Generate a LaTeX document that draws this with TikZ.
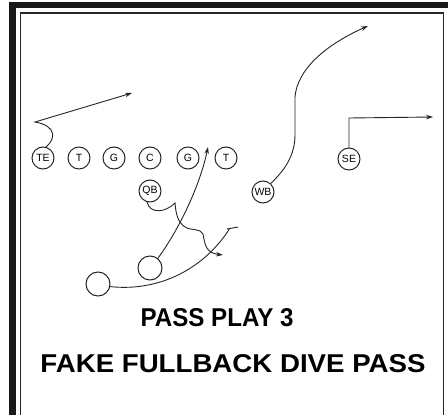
\documentclass[tikz,border=0pt]{standalone}
\usepackage{fontspec}
\setmainfont{Liberation Sans}
\usetikzlibrary{arrows.meta}
\tikzset{
  player/.style={draw=black!85, line width=1pt, circle, minimum size=22pt, inner sep=0pt,
    font=\fontsize{10.5}{10.5}\selectfont},
  back/.style={draw=black!85, line width=1pt, circle, minimum size=24pt, inner sep=0pt},
  route/.style={draw=black!85, line width=0.9pt},
  arr/.style={-{Stealth[length=7pt,width=4.5pt]}},
  title/.style={inner sep=0pt, anchor=center, font=\bfseries}
}
\begin{document}
\begin{tikzpicture}[x=1pt,y=-1pt]
\useasboundingbox (0,0) rectangle (448,415);
\fill[white] (0,0) rectangle (448,415);
% frame
\draw[line width=6.5pt, black!90] (12.5,415) -- (12.5,5) -- (448,5);
\draw[line width=1.6pt, black!85] (20.5,415) -- (20.5,13) -- (443.5,13) -- (443.5,415);
% players
\node[player] (TE) at (43,158) {TE};
\node[player] (T1) at (79,158) {T};
\node[player] (G1) at (114,158) {G};
\node[player] (C)  at (150,158) {C};
\node[player] (G2) at (188,158) {G};
\node[player] (T2) at (226,158) {T};
\node[player] (SE) at (349,159) {SE};
\node[player] (QB) at (150,191) {QB};
\node[player] (WB) at (263,192) {WB};
\node[back] (HB) at (150,268) {};
\node[back] (FB) at (98,284) {};
% route ends
\coordinate (teE) at (132,93);
\coordinate (wbE) at (368,26);
\coordinate (seE) at (433,117);
\coordinate (hbE) at (208,147);
\coordinate (fbE) at (230,228);
\coordinate (qbE) at (223,255);
% routes
\draw[route,arr] (TE.75) .. controls (55,140) and (58,126) .. (35,122) -- (teE);
\draw[route,arr] (WB.48) .. controls (285,170) and (295,155) .. (295,135) -- (295,97)
   .. controls (297,70) and (325,45) .. (wbE);
\draw[route,arr] (SE.north) -- (349,118) -- (seE);
\draw[route,arr] (HB.51) .. controls (180,228) and (200,185) .. (hbE);
\draw[route] (FB.-12) .. controls (160,292) and (205,268) .. (fbE);
\draw[route] ([xshift=-3pt,yshift=-1pt]fbE) -- ([xshift=8pt,yshift=1pt]fbE);
\draw[route,arr] (QB.255) .. controls (150,214) and (165,213) .. (175,203)
   .. controls (176,215) and (178,222) .. (185,227)
   .. controls (192,231) and (200,228) .. (203,234)
   .. controls (205,245) and (206,253) .. (qbE);
% titles
\node[title] (t1) at (217,318) {\resizebox{153pt}{18pt}{PASS PLAY 3}};
\node[title] (t2) at (233,364) {\resizebox{385pt}{18pt}{FAKE FULLBACK DIVE PASS}};
\end{tikzpicture}
\end{document}
